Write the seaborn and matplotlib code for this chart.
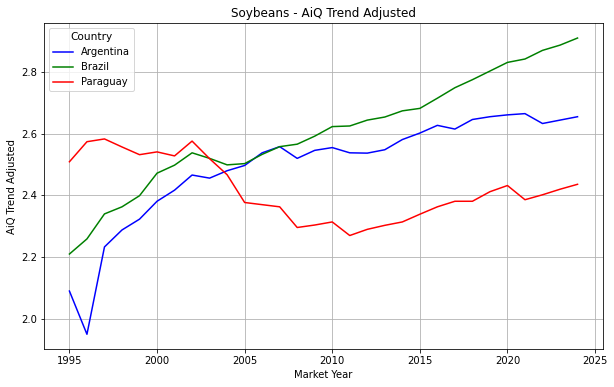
import pandas as pd
import numpy as np
import matplotlib
matplotlib.use('Agg')
import matplotlib.pyplot as plt
import seaborn as sns

# Market years and AiQ trend adjusted values
years = list(range(1995, 2025))

argentina = [2.090, 1.950, 2.233, 2.288, 2.323, 2.381, 2.417, 2.466, 2.456, 2.480,
             2.497, 2.538, 2.558, 2.520, 2.546, 2.555, 2.538, 2.537, 2.548, 2.581,
             2.602, 2.627, 2.615, 2.646, 2.655, 2.661, 2.665, 2.633, 2.644, 2.655]

brazil = [2.210, 2.259, 2.340, 2.363, 2.399, 2.472, 2.498, 2.538, 2.520, 2.499,
          2.503, 2.533, 2.558, 2.566, 2.592, 2.623, 2.625, 2.644, 2.654, 2.674,
          2.682, 2.715, 2.749, 2.775, 2.803, 2.831, 2.842, 2.870, 2.887, 2.910]

paraguay = [2.509, 2.574, 2.583, 2.557, 2.532, 2.541, 2.528, 2.576, 2.519, 2.467,
            2.377, 2.370, 2.363, 2.296, 2.304, 2.314, 2.270, 2.290, 2.303, 2.314,
            2.339, 2.363, 2.381, 2.381, 2.412, 2.432, 2.386, 2.402, 2.420, 2.436]

countries = ['Argentina', 'Brazil', 'Paraguay']
colors = ['blue', 'green', 'red']

df = pd.DataFrame({
    'Market Year': years * 3,
    'AiQ Trend Adjusted': argentina + brazil + paraguay,
    'Country': np.repeat(countries, len(years)),
})

plt.figure(figsize=(614 / 72, 387 / 72), dpi=72)
sns.lineplot(data=df, x='Market Year', y='AiQ Trend Adjusted', hue='Country',
             palette=dict(zip(countries, colors)), linewidth=1.5)
plt.title('Soybeans - AiQ Trend Adjusted')
plt.xlabel('Market Year')
plt.ylabel('AiQ Trend Adjusted')
plt.grid(True)
plt.legend(title='Country', loc='upper left', title_fontsize=10.5)
plt.subplots_adjust(left=0.0717, right=0.982, top=0.94, bottom=0.098)
plt.savefig('out.png', dpi=72)
